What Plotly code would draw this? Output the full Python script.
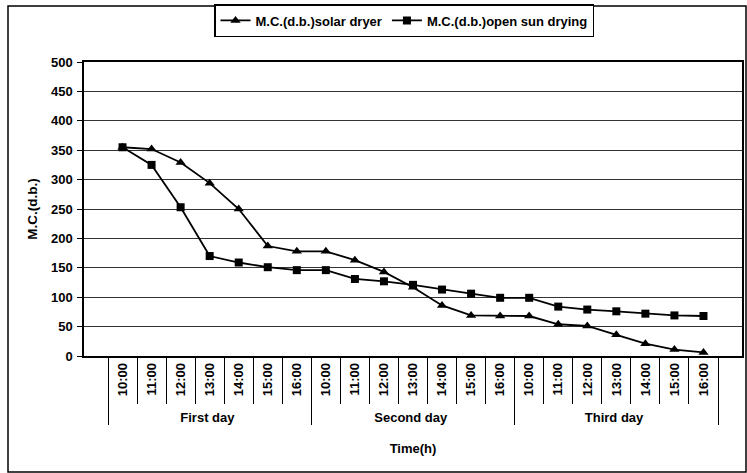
import plotly.graph_objects as go

days = ["First day", "Second day", "Third day"]
times = ["10:00", "11:00", "12:00", "13:00", "14:00", "15:00", "16:00"]

solar_dryer = [355, 352, 329, 294, 250, 187, 178,
               178, 163, 143, 117, 86, 69, 68,
               68, 54, 51, 36, 21, 11, 6]
open_sun = [355, 325, 253, 170, 159, 151, 146,
            146, 131, 127, 121, 113, 106, 99,
            99, 84, 79, 76, 72, 69, 68]

x_outer = [d for d in days for _ in times]
x_inner = [t for _ in days for t in times]

FONT = "Liberation Sans, Arial, sans-serif"

fig = go.Figure()
fig.add_trace(go.Scatter(
    x=[x_outer, x_inner], y=solar_dryer, name="M.C.(d.b.)solar dryer",
    mode="lines+markers", line=dict(color="black", width=1.8),
    marker=dict(symbol="triangle-up", size=9, color="black")))
fig.add_trace(go.Scatter(
    x=[x_outer, x_inner], y=open_sun, name="M.C.(d.b.)open sun drying",
    mode="lines+markers", line=dict(color="black", width=1.8),
    marker=dict(symbol="square", size=8, color="black")))

fig.update_layout(
    width=747, height=473,
    margin=dict(l=84, r=5, t=62, b=117, autoexpand=False),
    paper_bgcolor="white", plot_bgcolor="white",
    font=dict(family=FONT, size=13, color="black"),
    showlegend=True,
    legend=dict(orientation="h", x=(404 - 84) / 658, xanchor="center",
                y=(356 - 20.5) / 294, yanchor="middle",
                bordercolor="black", borderwidth=1.5,
                font=dict(size=13, family=FONT, weight="bold"),
                itemwidth=30, tracegroupgap=0),
    xaxis=dict(
        automargin=False,
        showline=True, linecolor="black", linewidth=1.5, mirror=True,
        showgrid=False,
        ticks="outside", ticklen=46, tickcolor="black", tickwidth=1,
        tickangle=-90,
        tickfont=dict(size=13, family=FONT, weight="bold"),
        showdividers=True, dividercolor="black", dividerwidth=1.2,
        title=dict(text="<b>Time(h)</b>", font=dict(size=13, family=FONT), standoff=20),
    ),
    yaxis=dict(
        automargin=False,
        range=[0, 500], dtick=50,
        showline=True, linecolor="black", linewidth=1.5, mirror=True,
        showgrid=True, gridcolor="#333333", gridwidth=1,
        zeroline=False,
        ticks="outside", ticklen=5, tickcolor="black",
        tickfont=dict(size=13, family=FONT, weight="bold"),
        ticklabelstandoff=2,
        title=dict(text="<b>M.C.(d.b.)</b>", font=dict(size=13.5, family=FONT), standoff=10),
    ),
)

fig.add_shape(type="rect", xref="paper", yref="paper",
              x0=(8 - 84) / 658, x1=(746 - 84) / 658,
              y0=(356 - 472) / 294, y1=(356 - 6) / 294,
              line=dict(color="black", width=1.5), fillcolor="rgba(0,0,0,0)")

fig.write_html("out.html",
               config={"displayModeBar": False},
               post_script="document.body.style.margin='0';document.body.style.overflow='hidden';")
